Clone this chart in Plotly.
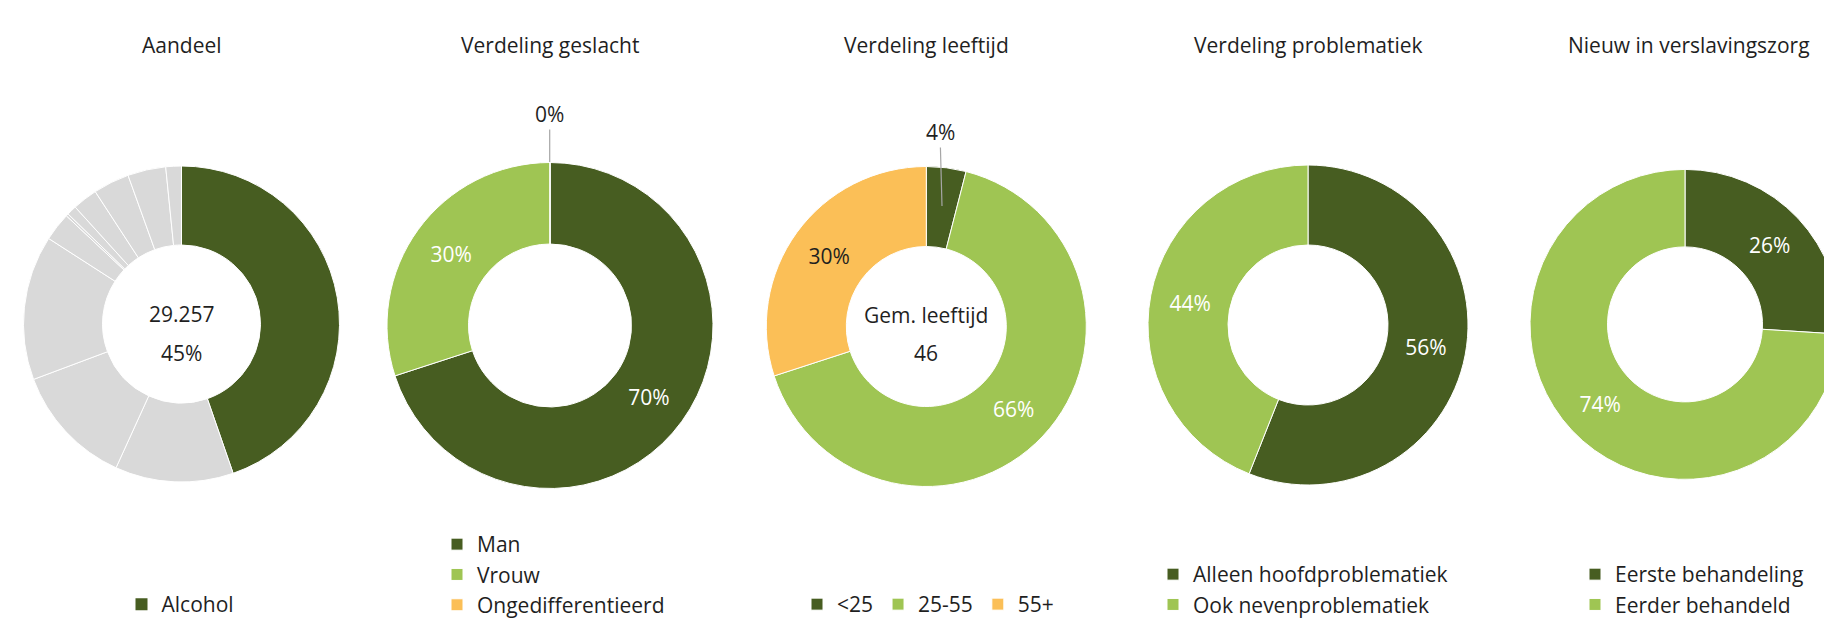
import plotly.graph_objects as go

W, H = 1832, 619

# ---------------- data ----------------
aandeel_labels = ["Alcohol", "Overig 1", "Overig 2", "Overig 3", "Overig 4", "Overig 5",
                  "Overig 6", "Overig 7", "Overig 8", "Overig 9", "Overig 10"]
aandeel_values = [29257, 7920, 8180, 9690, 1900, 165, 655, 1670, 2420, 2550, 1045]

geslacht_labels = ["Man", "Vrouw", "Ongedifferentieerd"]
geslacht_values = [70, 30, 0]

leeftijd_labels = ["<25", "25-55", "55+"]
leeftijd_values = [4, 66, 30]
gem_leeftijd = 46

problematiek_labels = ["Alleen hoofdproblematiek", "Ook nevenproblematiek"]
problematiek_values = [56, 44]

nieuw_labels = ["Eerste behandeling", "Eerder behandeld"]
nieuw_values = [26, 74]

titles = ["Aandeel", "Verdeling geslacht", "Verdeling leeftijd",
          "Verdeling problematiek", "Nieuw in verslavingszorg"]

DARK = "#475D21"
LIGHT = "#9FC553"
ORANGE = "#FBBF57"
GREY = "#D9D9D9"
TXT = "#1F1F1F"
FONT = "Open Sans, sans-serif"
FS = 21


def px_x(x):
    return x / W


def px_y(y):
    return 1 - y / H


def dom(cx, cy, d):
    x0, x1 = max(cx - d / 2, 0), min(cx + d / 2, W)
    return dict(x=[px_x(x0), px_x(x1)], y=[px_y(cy + d / 2), px_y(cy - d / 2)])


def pct(v):
    return [f"{x}%" for x in v]


# pie centres / sizes in pixels
centres = [(173.5, 316, 316), (542, 317.5, 326), (918.3, 318.5, 320),
           (1300, 317, 320), (1681, 316.4, 318)]

fig = go.Figure()

common = dict(hole=0.5, sort=False, direction="clockwise", rotation=0,
              marker_line=dict(color="white", width=1),
              textposition="inside", insidetextorientation="horizontal",
              hoverinfo="label+percent")

# ---- Aandeel ----
fig.add_trace(go.Pie(
    labels=aandeel_labels, values=aandeel_values,
    marker_colors=[DARK] + [GREY] * (len(aandeel_labels) - 1),
    textinfo="none", showlegend=False,
    domain=dom(*centres[0]), **common))
# legend entry for Alcohol only
fig.add_trace(go.Scatter(
    x=[None], y=[None], mode="markers", name=aandeel_labels[0],
    marker=dict(symbol="square", size=12, color=DARK), legend="legend"))

# ---- Geslacht ----
fig.add_trace(go.Pie(
    labels=geslacht_labels, values=geslacht_values,
    marker_colors=[DARK, LIGHT, ORANGE],
    text=pct(geslacht_values), textinfo="text",
    texttemplate=["%{text}", "%{text}", ""],
    textfont=dict(color="white", size=FS, family=FONT),
    legend="legend2", domain=dom(*centres[1]), **common))

# ---- Leeftijd ----
fig.add_trace(go.Pie(
    labels=leeftijd_labels, values=leeftijd_values,
    marker_colors=[DARK, LIGHT, ORANGE],
    text=pct(leeftijd_values), textinfo="text",
    texttemplate=["", "%{text}", "%{text}"],
    textfont=dict(color=["white", "white", TXT], size=FS, family=FONT),
    legend="legend3", domain=dom(*centres[2]), **common))

# ---- Problematiek ----
fig.add_trace(go.Pie(
    labels=problematiek_labels, values=problematiek_values,
    marker_colors=[DARK, LIGHT],
    text=pct(problematiek_values), textinfo="text",
    textfont=dict(color="white", size=FS, family=FONT),
    legend="legend4", domain=dom(*centres[3]), **common))

# ---- Nieuw ----
fig.add_trace(go.Pie(
    labels=nieuw_labels, values=nieuw_values,
    marker_colors=[DARK, LIGHT],
    text=pct(nieuw_values), textinfo="text",
    textfont=dict(color="white", size=FS, family=FONT),
    legend="legend5", domain=dom(*centres[4]), **common))

# ---------------- annotations ----------------
ann = []
for (cx, cy, d), t in zip(centres, titles):
    ann.append(dict(x=px_x(cx), y=px_y(37), text=t, showarrow=False))

share = round(100 * aandeel_values[0] / sum(aandeel_values))
ann += [
    dict(x=px_x(173.5), y=px_y(306), text=f"{aandeel_values[0]:,}".replace(",", "."),
         showarrow=False),
    dict(x=px_x(173.5), y=px_y(345), text=f"{share}%", showarrow=False),
    dict(x=px_x(918.3), y=px_y(307), text="Gem. leeftijd", showarrow=False),
    dict(x=px_x(918.3), y=px_y(345), text=str(gem_leeftijd), showarrow=False),
    # small slices labelled outside with a leader line
    dict(x=px_x(541.7), y=px_y(154), text=f"{geslacht_values[2]}%", showarrow=True,
         arrowhead=0, arrowwidth=1.2, arrowcolor="#A6A6A6", ax=0, ay=-48),
    dict(x=px_x(934), y=px_y(198), text=f"{leeftijd_values[0]}%", showarrow=True,
         arrowhead=0, arrowwidth=1.2, arrowcolor="#A6A6A6", ax=-2, ay=-74),
]
for a in ann:
    a.update(xref="paper", yref="paper", xanchor="center", yanchor="middle",
             font=dict(size=FS, color=TXT, family=FONT))

leg = dict(bgcolor="rgba(0,0,0,0)", xanchor="left", yanchor="top",
           traceorder="normal", font=dict(size=FS, color=TXT, family=FONT))

fig.update_layout(
    width=W, height=H,
    margin=dict(l=0, r=0, t=0, b=0, autoexpand=False),
    paper_bgcolor="white", plot_bgcolor="white",
    font=dict(family=FONT, size=FS, color=TXT),
    xaxis=dict(visible=False), yaxis=dict(visible=False),
    annotations=ann,
    legend=dict(x=px_x(113.5), y=px_y(576), **leg),
    legend2=dict(x=px_x(429), y=px_y(516), **leg),
    legend3=dict(x=px_x(789), y=px_y(576), orientation="h", **leg),
    legend4=dict(x=px_x(1145), y=px_y(546), **leg),
    legend5=dict(x=px_x(1567), y=px_y(546), **leg),
)

fig.write_html("out.html")
